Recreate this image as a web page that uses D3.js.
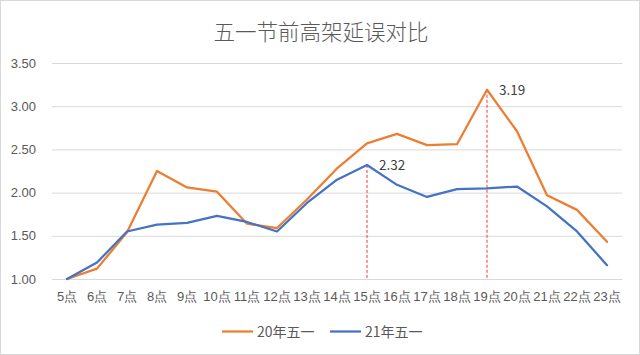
<!DOCTYPE html>
<html><head><meta charset="utf-8">
<script src="https://cdn.jsdelivr.net/npm/d3@7"></script>
<style>
html,body{margin:0;padding:0;background:#fff;}
svg{display:block;font-family:"Noto Sans CJK SC","Noto Sans",sans-serif;}
</style></head>
<body>
<svg id="chart" width="640" height="355"></svg>
<script>
const categories = ["5点","6点","7点","8点","9点","10点","11点","12点","13点","14点","15点","16点","17点","18点","19点","20点","21点","22点","23点"];
const series20 = [1.00,1.12,1.54,2.25,2.06,2.01,1.64,1.59,1.92,2.28,2.57,2.68,2.55,2.56,3.19,2.71,1.97,1.80,1.43];
const series21 = [1.00,1.19,1.55,1.63,1.65,1.73,1.66,1.55,1.88,2.15,2.32,2.09,1.95,2.04,2.05,2.07,1.84,1.55,1.16];
const yTicks = [1.00,1.50,2.00,2.50,3.00,3.50];
const seriesNames = ["20年五一","21年五一"];
const colors = ["#ED7D31","#4472C4"];
const markers = [{series:1, index:10}, {series:0, index:14}];
const title = "五一节前高架延误对比";

const svg = d3.select("#chart");
const W = 640, H = 355;
svg.append("rect").attr("x",0.5).attr("y",0.5).attr("width",W-1).attr("height",H-1)
  .attr("fill","#fff").attr("stroke","#d9d9d9");

const pLeft = 52, pRight = 622, pTop = 63, pBottom = 279;
const x = d3.scaleBand().domain(categories).range([pLeft,pRight]).padding(0);
const y = d3.scaleLinear().domain([1,3.5]).range([pBottom,pTop]);
const cx = c => x(c) + x.bandwidth()/2;

svg.append("text").attr("x",321).attr("y",40).attr("text-anchor","middle")
  .attr("font-size",21.5).attr("font-weight",300).attr("fill","#595959").text(title);

// grid
const gy = svg.append("g").attr("transform",`translate(${pLeft},0)`)
  .call(d3.axisLeft(y).tickValues(yTicks).tickSize(-(pRight-pLeft)).tickFormat(d3.format(".2f")).tickPadding(16));
gy.select(".domain").remove();
gy.selectAll(".tick line").attr("stroke","#d9d9d9").attr("stroke-width",1);
gy.selectAll(".tick text").attr("fill","#595959").attr("font-size",13);

const gx = svg.append("g").attr("transform",`translate(0,${pBottom})`)
  .call(d3.axisBottom(x).tickSize(0).tickPadding(13));
gx.select(".domain").remove();
gx.selectAll(".tick text").attr("fill","#595959").attr("font-size",13);

// dashed marker lines
const allSeries = [series20, series21];
markers.forEach(m=>{
  const c = categories[m.index], v = allSeries[m.series][m.index];
  svg.append("line").attr("x1",cx(c)).attr("x2",cx(c)).attr("y1",y(v)).attr("y2",pBottom)
    .attr("stroke","#FF0000").attr("stroke-width",0.8).attr("stroke-dasharray","3,2");
});

const line = d3.line().x((d,i)=>cx(categories[i])).y(d=>y(d));
[series20, series21].forEach((s,k)=>{
  svg.append("path").datum(s).attr("d",line).attr("fill","none")
    .attr("stroke",colors[k]).attr("stroke-width",2.25).attr("stroke-linejoin","round").attr("stroke-linecap","round");
});

markers.forEach(m=>{
  const c = categories[m.index], v = allSeries[m.series][m.index];
  svg.append("text").attr("x",cx(c)+12).attr("y",y(v)+5).attr("font-size",13.5)
    .attr("fill","#404040").text(d3.format(".2f")(v));
});

// legend
const lg = svg.append("g");
const legX = [222, 330];
seriesNames.forEach((n,k)=>{
  lg.append("line").attr("x1",legX[k]).attr("x2",legX[k]+31).attr("y1",331.5).attr("y2",331.5)
    .attr("stroke",colors[k]).attr("stroke-width",2.25);
  lg.append("text").attr("x",legX[k]+35).attr("y",336.5).attr("font-size",14).attr("fill","#595959").text(n);
});
</script>
</body></html>
